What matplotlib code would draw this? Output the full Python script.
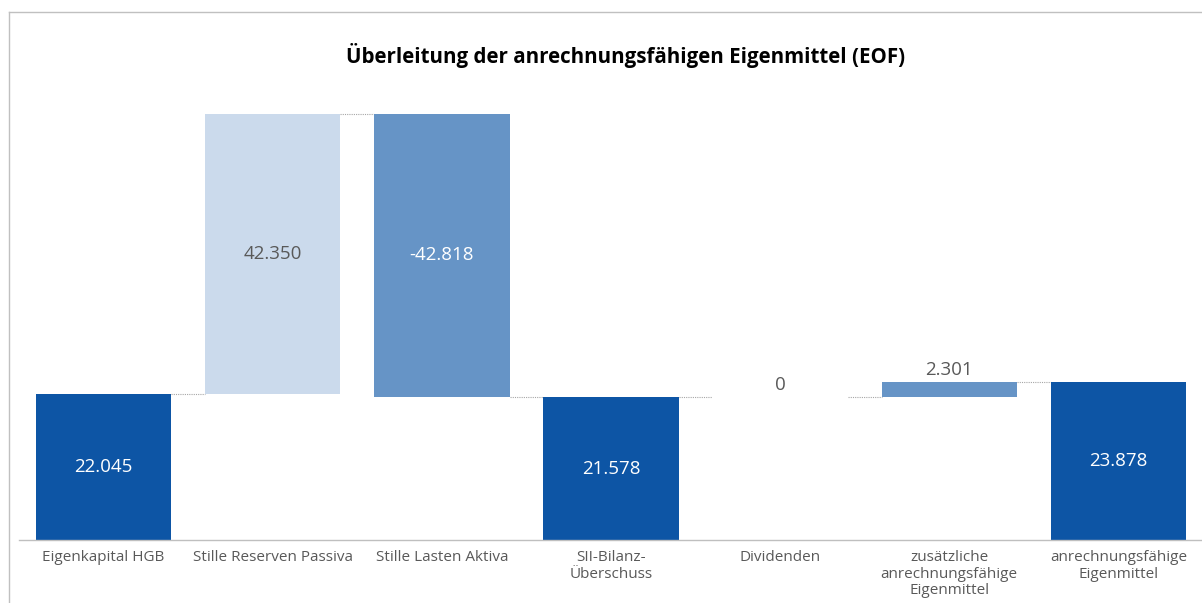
import matplotlib
matplotlib.use("Agg")
import matplotlib.pyplot as plt
import numpy as np

categories = ["Eigenkapital HGB", "Stille Reserven Passiva", "Stille Lasten Aktiva",
              "SII-Bilanz-\nÜberschuss", "Dividenden",
              "zusätzliche\nanrechnungsfähige\nEigenmittel", "anrechnungsfähige\nEigenmittel"]
values = [22.045, 42.350, -42.818, 21.578, 0.0, 2.301, 23.878]
kinds = ["total", "up", "down", "total", "delta", "delta", "total"]
labels = ["22.045", "42.350", "-42.818", "21.578", "0", "2.301", "23.878"]

plt.rcParams['font.family'] = ['Open Sans', 'DejaVu Sans']

W, H = 1202, 603
fig = plt.figure(figsize=(W / 100, H / 100), dpi=100)
ax = fig.add_axes([19 / W, (H - 540) / H, (1203 - 19) / W, (540 - 103) / H])

col_total = "#0D55A5"
col_up = "#CBDAEC"
col_delta = "#6694C6"

bw = 0.8
x = np.arange(len(categories))
level = 0.0
bottoms, heights = [], []
for v, k in zip(values, kinds):
    if k == "total":
        b, h = 0.0, v
        level = v
    else:
        if v >= 0:
            b, h = level, v
        else:
            b, h = level + v, -v
        level = level + v
    bottoms.append(b)
    heights.append(h)

colors = []
for k in kinds:
    colors.append(col_total if k == "total" else (col_up if k == "up" else col_delta))

ax.bar(x, heights, bottom=bottoms, width=bw, color=colors, edgecolor="none", zorder=2)

# connectors
level = 0.0
ends = []
for v, k in zip(values, kinds):
    level = v if k == "total" else level + v
    ends.append(level)
for i in range(len(values) - 1):
    ax.plot([x[i] + bw / 2, x[i + 1] - bw / 2], [ends[i], ends[i]],
            color="#A6A6A6", lw=0.8, ls=(0, (1, 1)), zorder=1)

# value labels
for i, (b, h, k, lab) in enumerate(zip(bottoms, heights, kinds, labels)):
    if k == "delta":
        ax.text(x[i], b + h + 0.5, lab, ha="center", va="bottom",
                color="#595959", fontsize=13.5)
    else:
        c = "#595959" if k == "up" else "white"
        ax.text(x[i], b + h / 2, lab, ha="center", va="center", color=c, fontsize=13.5)

ax.set_xlim(-0.5, 6.5)
ax.set_ylim(0, 66)
for s in ["top", "right", "left"]:
    ax.spines[s].set_visible(False)
ax.spines["bottom"].set_color("#BFBFBF")
ax.spines["bottom"].set_linewidth(1.0)
ax.set_yticks([])
ax.set_xticks(x)
ax.set_xticklabels(categories, fontsize=11, color="#595959", linespacing=1.12)
ax.tick_params(axis="x", length=0, pad=7.5)

fig.text(626 / W, 1 - 55 / H, "Überleitung der anrechnungsfähigen Eigenmittel (EOF)",
         ha="center", va="center", fontsize=14.8, fontweight="bold", color="#000000")

# outer frame lines
fig.add_artist(plt.Line2D([9 / W, 1], [1 - 12 / H, 1 - 12 / H], color="#C0C0C0", lw=1.0,
                          transform=fig.transFigure))
fig.add_artist(plt.Line2D([9 / W, 9 / W], [0, 1 - 12 / H], color="#C0C0C0", lw=1.0,
                          transform=fig.transFigure))

fig.savefig("out.png", dpi=100)
